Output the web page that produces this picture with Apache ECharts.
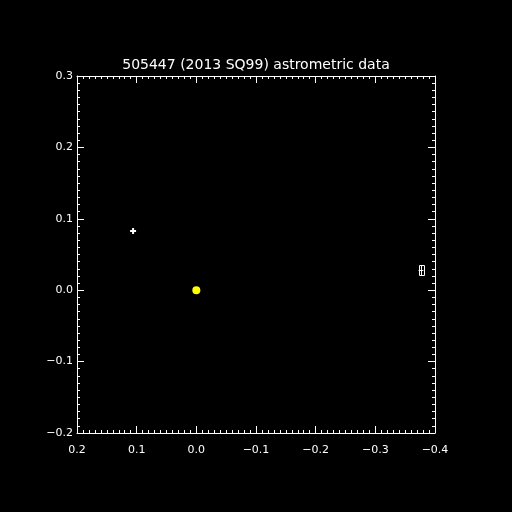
<!DOCTYPE html>
<html><head><meta charset="utf-8">
<script src="https://cdn.jsdelivr.net/npm/echarts@6/dist/echarts.min.js"></script>
<style>html,body{margin:0;padding:0;background:#000}#c{width:512px;height:512px}</style>
</head><body><div id="c"></div>
<script>
var titleText = "505447 (2013 SQ99) astrometric data";
var xRange = [-0.4, 0.2];
var yRange = [-0.2, 0.3];
var plusPoints = [[0.106, 0.083]];
var originPoints = [[0.0, 0.0]];
var errPoints = [[-0.3765, 0.028]];
var errX = [0.004];
var errY = [0.007];

function fmt(v){ var s = (Math.abs(v) < 1e-9 ? 0 : v).toFixed(1); return s.replace('-', '\u2212'); }
var font = 'DejaVu Sans';
function axisCommon(extra){
  var a = {
    interval: 0.1,
    axisLine: {show: true, onZero: false, lineStyle: {color: '#fff', width: 1}},
    axisTick: {show: true, inside: true, length: 7, lineStyle: {color: '#fff'}},
    minorTick: {show: true, splitNumber: 10, length: 3, lineStyle: {color: '#fff'}},
    splitLine: {show: false},
    axisLabel: {show: true, color: '#fff', fontFamily: font, fontSize: 11, formatter: fmt}
  };
  for (var k in extra) a[k] = extra[k];
  return a;
}
var chart = echarts.init(document.getElementById('c'), null, {renderer: 'canvas'});
chart.setOption({
  backgroundColor: '#000',
  animation: false,
  title: {text: titleText, left: 'center', top: 53, textStyle: {color: '#fff', fontFamily: font, fontSize: 14, fontWeight: 'normal'}},
  grid: {left: 77, right: 77, top: 76, bottom: 79, show: false},
  xAxis: [
    axisCommon({type: 'value', min: xRange[0], max: xRange[1], inverse: true, position: 'bottom', axisLabel: {color: '#fff', fontFamily: font, fontSize: 11, formatter: fmt, margin: 12}}),
    axisCommon({type: 'value', min: xRange[0], max: xRange[1], inverse: true, position: 'top', axisLabel: {show: false}})
  ],
  yAxis: [
    axisCommon({type: 'value', min: yRange[0], max: yRange[1], position: 'left', axisLabel: {color: '#fff', fontFamily: font, fontSize: 11, formatter: fmt, margin: 4}}),
    axisCommon({type: 'value', min: yRange[0], max: yRange[1], position: 'right', axisLabel: {show: false}})
  ],
  series: [
    {type: 'scatter', data: plusPoints, symbol: 'path://M2,0H4V2H6V4H4V6H2V4H0V2H2Z', symbolSize: 6, itemStyle: {color: '#fff', opacity: 1}},
    {type: 'scatter', data: originPoints, symbol: 'circle', symbolSize: 8, itemStyle: {color: '#ffff00', opacity: 1}},
    {type: 'custom', data: errPoints.map(function(p, i){ return [p[0], p[1], errX[i], errY[i]]; }),
     renderItem: function(params, api){
       var x = api.value(0), y = api.value(1), ex = api.value(2), ey = api.value(3);
       var c = api.coord([x, y]);
       var l = api.coord([x + ex, y])[0], r = api.coord([x - ex, y])[0];
       var t = api.coord([x, y + ey])[1], b = api.coord([x, y - ey])[1];
       var st = {stroke: '#fff', lineWidth: 1, fill: null};
       return {type: 'group', children: [
         {type: 'rect', shape: {x: Math.round(l) + 0.5, y: Math.round(t) + 0.5, width: Math.round(r - l), height: Math.round(b - t)}, style: st},
         {type: 'line', shape: {x1: Math.round(c[0]) + 0.5, y1: t, x2: Math.round(c[0]) + 0.5, y2: b}, style: st},
         {type: 'line', shape: {x1: l, y1: Math.round(c[1]) + 0.5, x2: r, y2: Math.round(c[1]) + 0.5}, style: st}
       ]};
     }}
  ]
});
</script></body></html>
